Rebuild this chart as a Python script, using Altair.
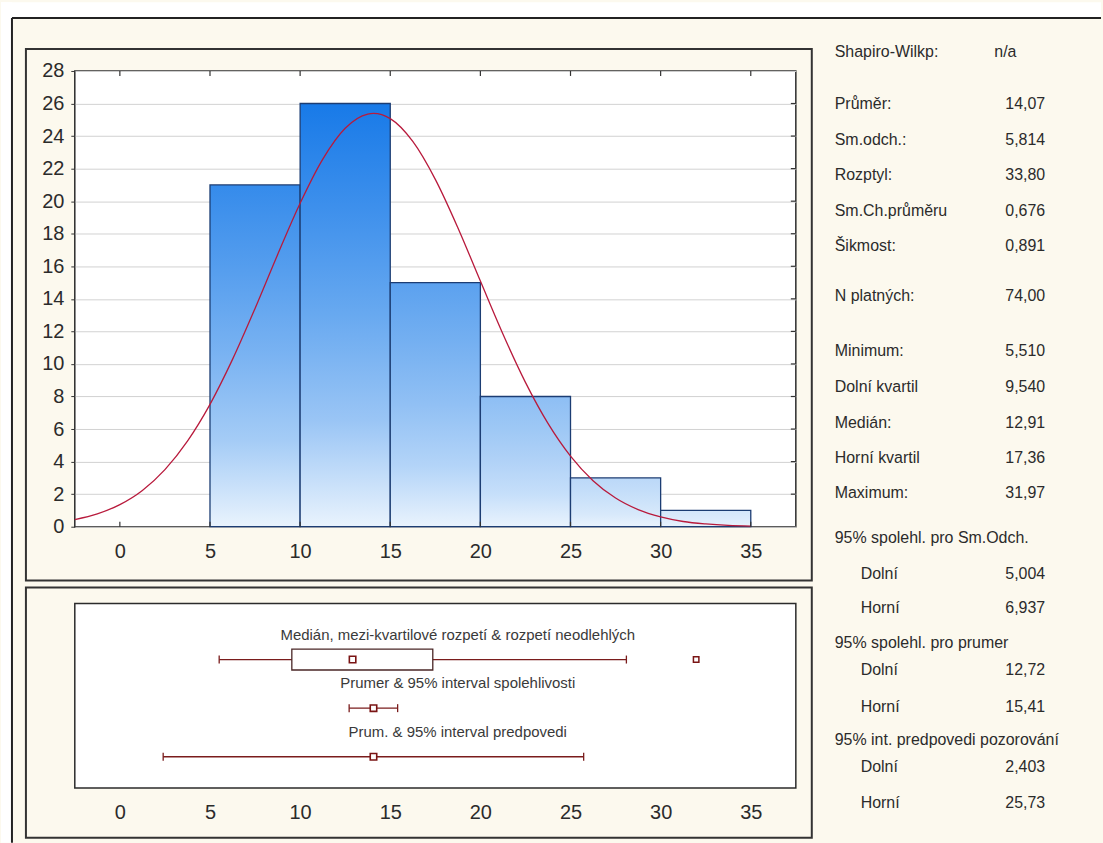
import altair as alt
import pandas as pd

# ---------------- data ----------------
bin_start = [5, 10, 15, 20, 25, 30]
bin_end = [10, 15, 20, 25, 30, 35]
counts = [21, 26, 15, 8, 3, 1]

# fitted normal curve (expected counts per 5-wide bin)
curve_x = [-2.5, -1.25, 0, 1.25, 2.5, 3.75, 5, 6.25, 7.5, 8.75, 10, 11.25, 12.5, 13.75, 14.07,
           15, 16.25, 17.5, 18.75, 20, 21.25, 22.5, 23.75, 25, 26.25, 27.5, 28.75, 30, 31.25,
           32.5, 33.75, 35]
curve_y = [0.44, 0.79, 1.36, 2.23, 3.51, 5.26, 7.52, 10.28, 13.41, 16.71, 19.87, 22.57, 24.48,
           25.35, 25.39, 25.07, 23.67, 21.34, 18.37, 15.09, 11.84, 8.87, 6.35, 4.34, 2.83, 1.76,
           1.05, 0.60, 0.32, 0.17, 0.08, 0.04]

x_ticks = [0, 5, 10, 15, 20, 25, 30, 35]
y_ticks = [0, 2, 4, 6, 8, 10, 12, 14, 16, 18, 20, 22, 24, 26, 28]

row_ids = [1, 2, 3]
row_labels = ["Medián, mezi-kvartilové rozpetí & rozpetí neodlehlých",
              "Prumer & 95% interval spolehlivosti",
              "Prum. & 95% interval predpovedi"]
row_lo = [5.51, 12.72, 2.403]
row_hi = [28.1, 15.41, 25.73]
row_center = [12.91, 14.07, 14.07]
box_q1 = [9.54]
box_q3 = [17.36]
outliers = [31.97]

stat_labels = ["Shapiro-Wilkp:", "Průměr:", "Sm.odch.:", "Rozptyl:", "Sm.Ch.průměru", "Šikmost:",
               "N platných:", "Minimum:", "Dolní kvartil", "Medián:", "Horní kvartil", "Maximum:",
               "95% spolehl. pro Sm.Odch.", "Dolní", "Horní",
               "95% spolehl. pro prumer", "Dolní", "Horní",
               "95% int. predpovedi pozorování", "Dolní", "Horní"]
stat_values = ["n/a", "14,07", "5,814", "33,80", "0,676", "0,891",
               "74,00", "5,510", "9,540", "12,91", "17,36", "31,97",
               "", "5,004", "6,937", "", "12,72", "15,41", "", "2,403", "25,73"]

# ---------------- layout (pixels) ----------------
stat_y = [50, 102, 138, 173, 209, 245, 295, 350, 386, 422, 457, 492,
          537, 573, 608, 643, 670, 707, 740, 767, 803]
stat_indent = [0] * 12 + [0, 26, 26, 0, 26, 26, 0, 26, 26]

FONT = "Liberation Sans"
TXT = "#2b2b2b"
LINE = "#7a1c1c"
W, H1, H2 = 723, 457, 185
OX, OY = 74, 69  # plot origin of the histogram on the page

xs = alt.Scale(domain=[-2.5, 37.5], nice=False, zero=False)
ys = alt.Scale(domain=[0, 28], nice=False)

x_axis = alt.Axis(values=x_ticks, title=None, grid=False, domain=False, ticks=False, tickSize=0,
                  labelPadding=15, labelFontSize=20, labelFont=FONT, labelColor=TXT)
y_axis = alt.Axis(values=y_ticks, title=None, grid=True, gridColor="#d2d2d2", gridWidth=1,
                  domain=False, ticks=True, tickSize=4, tickColor="#333333", labelPadding=7,
                  labelFontSize=20, labelFont=FONT, labelColor=TXT)

one = pd.DataFrame({"k": [0]})


def ramp(v):
    t = (max(v, 0) / 26.0) ** 0.7
    lo = (233, 243, 253)
    hi = (24, 122, 232)
    c = [round(lo[j] + (hi[j] - lo[j]) * min(t, 1.0)) for j in range(3)]
    return "#%02x%02x%02x" % tuple(c)


# decorations around the top panel
deco = [
    alt.Chart(one).mark_rect(color="white").encode(
        x=alt.value(-74), x2=alt.value(1029), y=alt.value(-69), y2=alt.value(-53)),
    alt.Chart(one).mark_rect(color="white").encode(
        x=alt.value(-74), x2=alt.value(-63), y=alt.value(-69), y2=alt.value(774)),
    alt.Chart(one).mark_rule(color="#222222", strokeWidth=2).encode(
        x=alt.value(-63), x2=alt.value(1029), y=alt.value(-53)),
    alt.Chart(one).mark_rule(color="#222222", strokeWidth=2).encode(
        x=alt.value(-63), y=alt.value(-53), y2=alt.value(774)),
    alt.Chart(one).mark_rect(filled=False, color="#333333", strokeWidth=2).encode(
        x=alt.value(-49), x2=alt.value(739), y=alt.value(-22), y2=alt.value(511)),
]

bars = []
for i in range(len(counts)):
    df = pd.DataFrame({"x0": [bin_start[i]], "x1": [bin_end[i]], "n": [counts[i]]})
    stops = [alt.GradientStop(color=ramp(counts[i] * (1 - f)), offset=f)
             for f in (0, 0.25, 0.5, 0.75, 1.0)]
    grad = alt.Gradient(gradient="linear", stops=stops, x1=0, x2=0, y1=0, y2=1)
    bars.append(
        alt.Chart(df).mark_rect(color=grad, stroke="#1c3d73", strokeWidth=1.3).encode(
            x=alt.X("x0:Q", scale=xs, axis=x_axis),
            x2="x1:Q",
            y=alt.Y("n:Q", scale=ys, axis=y_axis),
            y2=alt.datum(0),
        )
    )

curve = alt.Chart(pd.DataFrame({"cx": curve_x, "cy": curve_y})).mark_line(
    color="#b81a3c", strokeWidth=1.3, interpolate="monotone").encode(
    x=alt.X("cx:Q", scale=xs, axis=x_axis),
    y=alt.Y("cy:Q", scale=ys, axis=y_axis),
)

xt = pd.DataFrame({"t": x_ticks})
yt = pd.DataFrame({"t": y_ticks[1:-1]})
ticks = [
    alt.Chart(xt).mark_rule(color="#333333", strokeWidth=1.2).encode(
        x=alt.X("t:Q", scale=xs, axis=x_axis), y=alt.value(H1 - 5), y2=alt.value(H1)),
    alt.Chart(xt).mark_rule(color="#333333", strokeWidth=1.2).encode(
        x=alt.X("t:Q", scale=xs, axis=x_axis), y=alt.value(0), y2=alt.value(5)),
    alt.Chart(yt).mark_rule(color="#333333", strokeWidth=1.2).encode(
        y=alt.Y("t:Q", scale=ys, axis=y_axis), x=alt.value(W - 5), x2=alt.value(W)),
]

# statistics text block to the right of the panels
stat_layers = []
for i in range(len(stat_labels)):
    py = stat_y[i] - OY
    stat_layers.append(
        alt.Chart(pd.DataFrame({"t": [stat_labels[i]]})).mark_text(
            align="left", baseline="middle", font=FONT, fontSize=16, color=TXT).encode(
            x=alt.value(836 - OX + stat_indent[i]), y=alt.value(py), text="t:N"))
    if stat_values[i]:
        if stat_values[i] == "n/a":
            vx, al = 996 - OX, "left"
        else:
            vx, al = 1047 - OX, "right"
        stat_layers.append(
            alt.Chart(pd.DataFrame({"t": [stat_values[i]]})).mark_text(
                align=al, baseline="middle", font=FONT, fontSize=16, color=TXT).encode(
                x=alt.value(vx), y=alt.value(py), text="t:N"))

hist = alt.layer(*deco, *bars, curve, *ticks, *stat_layers).properties(
    width=W, height=H1,
    view=alt.ViewBackground(fill="white", stroke="#2b2b2b", strokeWidth=1.5),
)

# ---------------- box plot panel ----------------
rs = alt.Scale(domain=[-0.05, 3.54], reverse=True, nice=False, zero=False)
rows = pd.DataFrame({"row": row_ids, "label": row_labels, "lo": row_lo, "hi": row_hi,
                     "c": row_center})
ends = pd.DataFrame({"row": row_ids * 2, "v": row_lo + row_hi})
boxdf = pd.DataFrame({"row": [1], "q1": box_q1, "q3": box_q3})
outdf = pd.DataFrame({"row": [1] * len(outliers), "v": outliers})

box_layers = [
    alt.Chart(one).mark_rect(filled=False, color="#333333", strokeWidth=2).encode(
        x=alt.value(-49), x2=alt.value(739), y=alt.value(-16), y2=alt.value(235)),
    alt.Chart(rows).mark_rule(color=LINE, strokeWidth=1.3).encode(
        x=alt.X("lo:Q", scale=xs, axis=x_axis), x2="hi:Q",
        y=alt.Y("row:Q", scale=rs, axis=None)),
    alt.Chart(ends).mark_point(shape="M0,-1L0,1", size=64, color=LINE, strokeWidth=1.3,
                               filled=False, opacity=1).encode(
        x=alt.X("v:Q", scale=xs, axis=x_axis), y=alt.Y("row:Q", scale=rs, axis=None)),
    alt.Chart(boxdf).mark_bar(size=21, orient="horizontal", fill="white", stroke="#4a2626",
                              strokeWidth=1.3).encode(
        x=alt.X("q1:Q", scale=xs, axis=x_axis), x2="q3:Q",
        y=alt.Y("row:Q", scale=rs, axis=None)),
    alt.Chart(rows).mark_square(size=42, fill="white", stroke="#7a1414", strokeWidth=1.6,
                                opacity=1).encode(
        x=alt.X("c:Q", scale=xs, axis=x_axis), y=alt.Y("row:Q", scale=rs, axis=None)),
    alt.Chart(outdf).mark_square(size=30, fill="white", stroke="#7a1414", strokeWidth=1.5,
                                 opacity=1).encode(
        x=alt.X("v:Q", scale=xs, axis=x_axis), y=alt.Y("row:Q", scale=rs, axis=None)),
    alt.Chart(rows).mark_text(font=FONT, fontSize=15, color="#3a3a3a", dy=-25,
                              align="center", baseline="middle").encode(
        x=alt.value(384), y=alt.Y("row:Q", scale=rs, axis=None), text="label:N"),
]

box = alt.layer(*box_layers).properties(
    width=W, height=H2,
    view=alt.ViewBackground(fill="white", stroke="#2b2b2b", strokeWidth=1.5),
)

chart = alt.vconcat(hist, box, spacing=77, bounds="flush").properties(
    padding=0
).configure(background="#fcf9ee").configure_view(strokeWidth=0)

chart.save("out.html", embed_options={"renderer": "svg", "actions": False})
